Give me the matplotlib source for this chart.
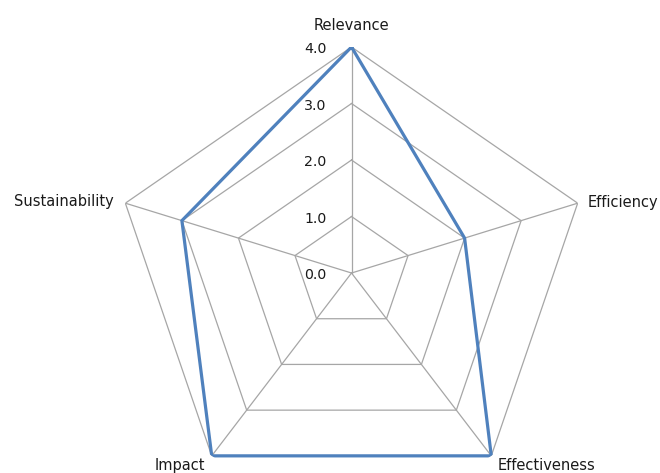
import numpy as np
import matplotlib
matplotlib.use("Agg")
import matplotlib.pyplot as plt

# chart data
categories = ["Relevance", "Efficiency", "Effectiveness", "Impact", "Sustainability"]
scores = [4.0, 2.0, 4.0, 4.0, 3.0]
rings = [0.0, 1.0, 2.0, 3.0, 4.0]
ring_labels = ["0.0", "1.0", "2.0", "3.0", "4.0"]

grid_color = "#a6a6a6"
line_color = "#4f81bd"
text_color = "#1a1a1a"

fig = plt.figure(figsize=(6.6, 4.73), dpi=100)
ax = fig.add_axes([0.1723, -0.055, 0.7206, 0.9556], projection="polar")
ax.set_aspect("auto")
ax.set_theta_offset(np.pi / 2)
ax.set_theta_direction(-1)
ax.set_ylim(0, 4)
ax.set_xticks([])
ax.set_yticks([])
ax.grid(False)
ax.spines["polar"].set_visible(False)
ax.patch.set_visible(False)

angles = np.linspace(0, 2 * np.pi, len(categories), endpoint=False)
closed = np.append(angles, angles[0])

# polygon grid
for r in rings[1:]:
    ax.plot(closed, [r] * len(closed), color=grid_color, lw=0.9, zorder=1)
for a in angles:
    ax.plot([a, a], [0, rings[-1]], color=grid_color, lw=0.9, zorder=1)

# series
ax.plot(closed, scores + scores[:1], color=line_color, lw=2.3, zorder=3,
        solid_joinstyle="miter")

# ring value labels along the top axis
for r, lab in zip(rings, ring_labels):
    ax.annotate(lab, xy=(0, r), xytext=(-25, -2), textcoords="offset pixels",
                ha="right", va="center", fontsize=10.2, color=text_color)

# category labels
offsets = [(0, 22, "center"), (10, 1, "left"), (6, -10, "left"),
           (-7, -10, "right"), (-12, 2, "right")]
for a, cat, (dx, dy, ha) in zip(angles, categories, offsets):
    ax.annotate(cat, xy=(a, rings[-1]), xytext=(dx, dy), textcoords="offset pixels",
                ha=ha, va="center", fontsize=10.5, color=text_color,
                annotation_clip=False)

fig.savefig("out.png", dpi=100)
